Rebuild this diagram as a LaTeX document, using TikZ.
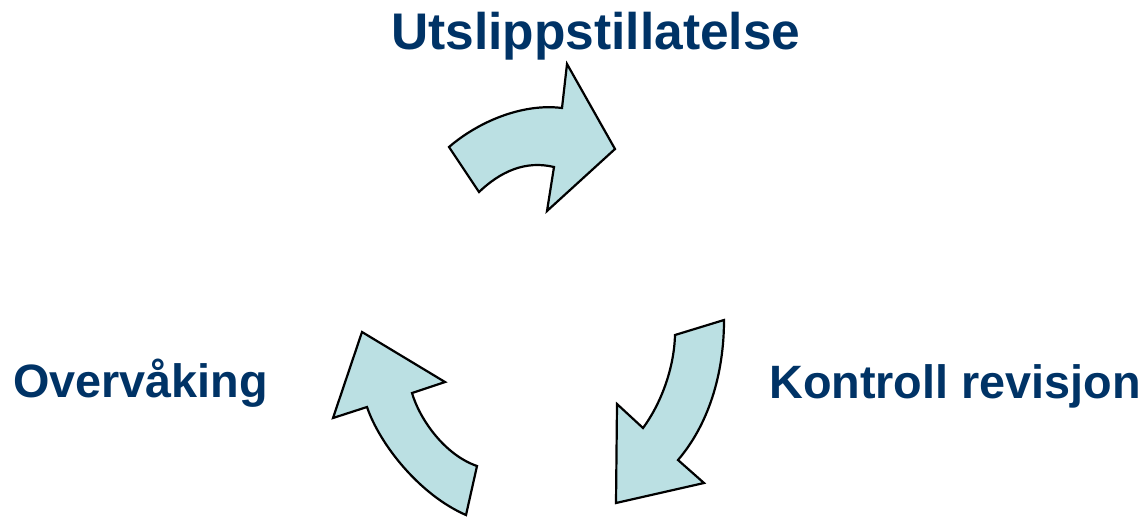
\documentclass[tikz,border=0pt]{standalone}
\usepackage{fontspec}
\setmainfont{Liberation Sans}
\definecolor{labelblue}{RGB}{0,51,102}
\definecolor{arrowfill}{RGB}{187,224,227}
\tikzset{
  cyclearrow/.style={draw=black, fill=arrowfill, line width=2.2pt, line join=miter},
  lbl/.style={anchor=base west, inner sep=0pt, text=labelblue, font=\bfseries}
}
\begin{document}
\begin{tikzpicture}[x=1pt,y=-1pt]
\useasboundingbox (0,0) rectangle (1147,517);
% top arrow
\draw[cyclearrow] (449,147) .. controls (478,122) and (522,103) .. (562,108)
  -- (567,64) -- (615,149) -- (547,211) -- (554,167)
  .. controls (525,160) and (500,172) .. (479,192) -- cycle;
% right arrow
\draw[cyclearrow] (675,335) -- (724,320)
  .. controls (724,375) and (708,425) .. (678,460)
  -- (704,483) -- (616,503) -- (617,404) -- (643,428)
  .. controls (660,405) and (674,370) .. cycle;
% left arrow
\draw[cyclearrow] (466,515) -- (477,466)
  .. controls (445,455) and (420,420) .. (412,393)
  -- (445,382) -- (362,332) -- (333,418) -- (367,407)
  .. controls (380,445) and (420,495) .. cycle;
% labels
\node[lbl, font=\fontsize{51.5}{60}\selectfont\bfseries] (u) at (391,49) {Utslippstillatelse};
\node[lbl, font=\fontsize{46.8}{55}\selectfont\bfseries] (o) at (13,397) {Overvåking};
\node[lbl, font=\fontsize{46.8}{55}\selectfont\bfseries] (k) at (769,398) {Kontroll revisjon};
\end{tikzpicture}
\end{document}
